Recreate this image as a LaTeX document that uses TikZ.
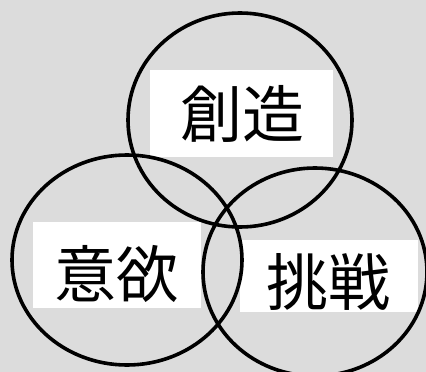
\documentclass[tikz,border=0pt]{standalone}
\usepackage{fontspec}
\newfontfamily\jpfont{Noto Sans CJK JP}
\definecolor{bggray}{HTML}{DCDCDC}
\begin{document}
\begin{tikzpicture}[x=1pt,y=-1pt,
  whitebox/.style={fill=white,draw=none,inner sep=0pt},
  ring/.style={draw=black,line width=3.6pt},
  label/.style={font=\jpfont\fontsize{62}{66}\selectfont,inner sep=0pt}]
\useasboundingbox (0,0) rectangle (426,372);
\clip (0,0) rectangle (426,372);
\fill[bggray] (0,0) rectangle (426,372);
% white backgrounds of the labels
\node[whitebox,minimum width=183pt,minimum height=87pt] (btop) at (241,113) {};
\node[whitebox,minimum width=168pt,minimum height=86pt] (bleft) at (117,265) {};
\node[whitebox,minimum width=178pt,minimum height=72pt] (bright) at (329,276) {};
% circles
\draw[ring] (240,120) ellipse [x radius=112pt, y radius=107pt];
\draw[ring] (127,260) ellipse [x radius=115pt, y radius=105pt];
\draw[ring] (315,272) ellipse [x radius=112pt, y radius=104pt];
% labels
\node[label] (t1) at (242,114) {創造};
\node[label] (t2) at (116,274) {意欲};
\node[label] (t3) at (328,282) {挑戦};
\end{tikzpicture}
\end{document}
